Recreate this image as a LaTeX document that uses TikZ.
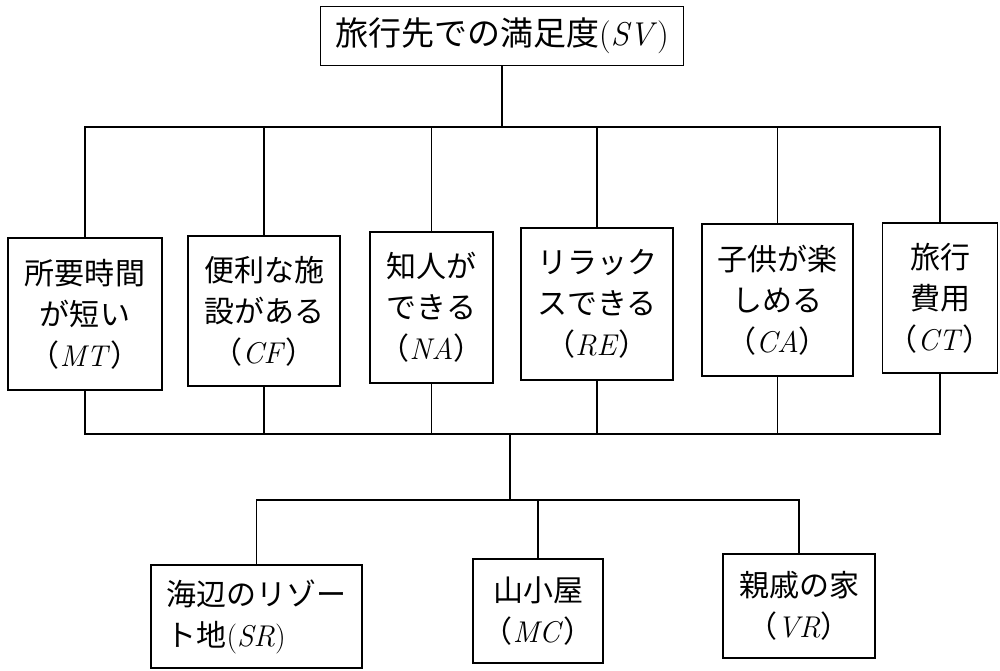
\documentclass[tikz,border=0pt]{standalone}
\usepackage{fontspec}
\newfontfamily\jp{Noto Sans CJK JP}
\newfontfamily\lmr{Latin Modern Roman}
\newcommand\lt[1]{{\lmr\itshape #1\/}}
\begin{document}
\begin{tikzpicture}[x=0.5pt,y=-0.5pt,
  box/.style={draw,line width=0.6pt,inner sep=0pt,align=center,
    font=\jp\fontsize{15pt}{20.5pt}\selectfont},
  conn/.style={line width=0.6pt}]
\useasboundingbox (0,0) rectangle (1000,670);
% top
\node[box,minimum width=181.5pt,minimum height=29.5pt,font=\jp\fontsize{16.5pt}{20pt}\selectfont] (SV) at (502,36) {旅行先での満足度{\lmr(}\lt{SV}{\lmr)}};
% criteria
\node[box,minimum width=77pt,minimum height=76pt] (MT) at (85,314) {所要時間\\が短い\\（\lt{MT}）};
\node[box,minimum width=76pt,minimum height=75pt] (CF) at (264,311) {便利な施\\設がある\\（\lt{CF}）};
\node[box,minimum width=61.5pt,minimum height=75.5pt] (NA) at (431.5,307.5) {知人が\\できる\\（\lt{NA}）};
\node[box,minimum width=76pt,minimum height=76pt] (RE) at (597,304) {リラック\\スできる\\（\lt{RE}）};
\node[box,minimum width=75.5pt,minimum height=76pt] (CA) at (777.5,300) {子供が楽\\しめる\\（\lt{CA}）};
\node[box,minimum width=57.5pt,minimum height=75pt] (CT) at (940,298) {旅行\\費用\\（\lt{CT}）};
% alternatives
\node[box,align=left,minimum width=105.5pt,minimum height=51.5pt] (SR) at (256.5,616.5) {海辺のリゾー\\ト地{\lmr(}\lt{SR}{\lmr)}};
\node[box,minimum width=65pt,minimum height=52pt] (MC) at (538,611) {山小屋\\（\lt{MC}）};
\node[box,minimum width=76pt,minimum height=52pt] (VR) at (799,606) {親戚の家\\（\lt{VR}）};
% connectors
\coordinate (busA) at (502,127);
\coordinate (busB) at (510,434);
\coordinate (busC) at (510,500);
\draw[conn] (SV.south) -- (busA);
\draw[conn] (MT.north) |- (busA);
\draw[conn] (CT.north) |- (busA);
\foreach \n in {CF,NA,RE,CA} \draw[conn] (\n.north) -- (\n.north |- busA);
\draw[conn] (MT.south) |- (busB);
\draw[conn] (CT.south) |- (busB);
\foreach \n in {CF,NA,RE,CA} \draw[conn] (\n.south) -- (\n.south |- busB);
\draw[conn] (busB) -- (busC);
\draw[conn] (SR.north) |- (busC);
\draw[conn] (VR.north) |- (busC);
\draw[conn] (MC.north) -- (MC.north |- busC);
\end{tikzpicture}
\end{document}
